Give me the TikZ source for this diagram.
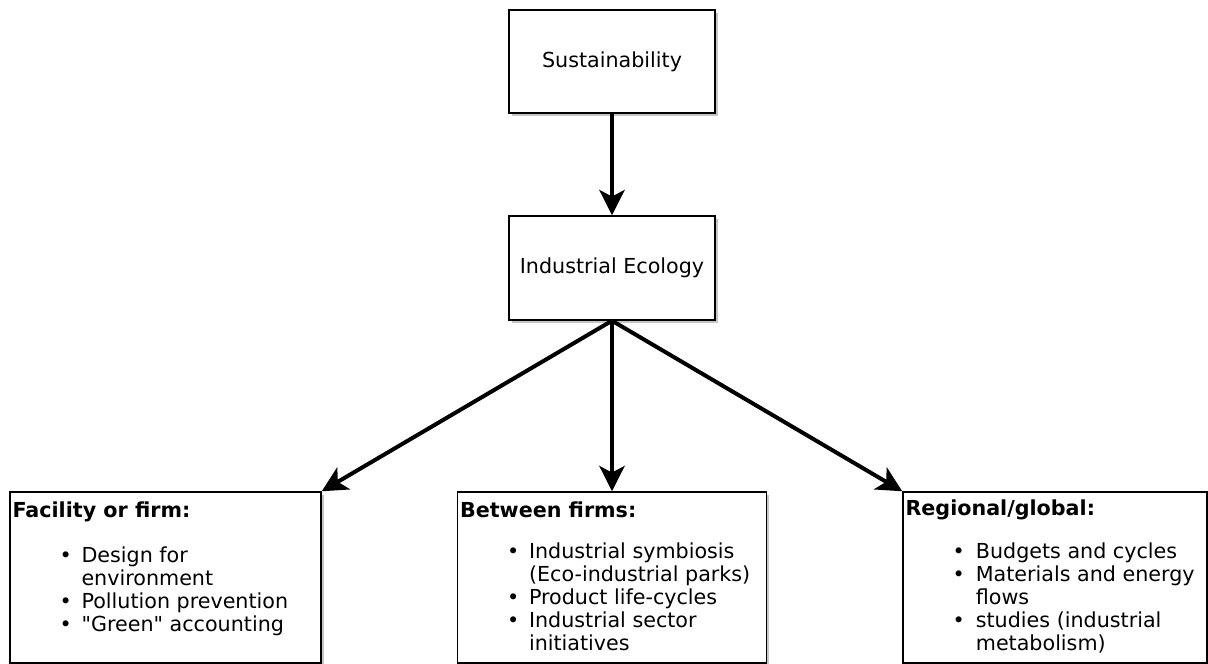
\documentclass[tikz,border=0pt]{standalone}
\usepackage{fontspec}
\setmainfont{DejaVu Sans}
\usetikzlibrary{arrows.meta,shadows}
\begin{document}
\begin{tikzpicture}[x=0.75pt,y=-0.75pt,
  txt/.style={font=\fontsize{15.5}{17.25}\selectfont},
  box/.style={draw=black, line width=1.1pt, fill=white, inner sep=0pt,
    drop shadow={shadow xshift=2pt, shadow yshift=-2pt, fill=black!45, opacity=0.5}},
  arr/.style={draw=black, line width=3pt, -{Stealth[length=19pt,width=19pt,inset=5pt]}},
  head/.style={txt, font=\fontsize{15.5}{17.25}\selectfont\bfseries, anchor=west, inner sep=0pt},
  items/.style={txt, anchor=north west, inner sep=0pt}]
\useasboundingbox (0,0) rectangle (1208,664);

% top level boxes
\node[box, txt, minimum width=154.5pt, minimum height=77.25pt] (sus) at (612,61.5) {Sustainability};
\node[box, txt, minimum width=154.5pt, minimum height=78pt] (ie) at (612,268) {Industrial Ecology};

% three scales of industrial ecology
\node[box, minimum width=233.25pt, minimum height=128.25pt] (fac) at (165.5,577.5) {};
\node[box, minimum width=231.75pt, minimum height=128.25pt] (btw) at (612,577.5) {};
\node[box, minimum width=228pt, minimum height=128.25pt] (reg) at (1055,577.5) {};

% connectors
\draw[arr] (sus.south) -- (ie.north);
\draw[arr] (ie.south) -- (fac.north east);
\draw[arr] (ie.south) -- (btw.north);
\draw[arr] (ie.south) -- (reg.north west);

% box contents
\node[head] (facT) at ([shift={(3,21)}]fac.north west) {Facility or firm:};
\node[items] (facL) at ([shift={(50,55)}]fac.north west) {%
  \begin{tabular}{@{}p{16.5pt}@{}l@{}}
  • & Design for\\
    & environment\\
  • & Pollution prevention\\
  • & \textquotedbl Green\textquotedbl{} accounting
  \end{tabular}};

\node[head] (btwT) at ([shift={(3,19)}]btw.north west) {Between firms:};
\node[items] (btwL) at ([shift={(50,51)}]btw.north west) {%
  \begin{tabular}{@{}p{16.5pt}@{}l@{}}
  • & Industrial symbiosis\\
    & (Eco-industrial parks)\\
  • & Product life-cycles\\
  • & Industrial sector\\
    & initiatives
  \end{tabular}};

\node[head] (regT) at ([shift={(3,19)}]reg.north west) {Regional/global:};
\node[items] (regL) at ([shift={(50,51)}]reg.north west) {%
  \begin{tabular}{@{}p{17.5pt}@{}l@{}}
  • & Budgets and cycles\\
  • & Materials and energy\\
    & flows\\
  • & studies (industrial\\
    & metabolism)
  \end{tabular}};
\end{tikzpicture}
\end{document}
